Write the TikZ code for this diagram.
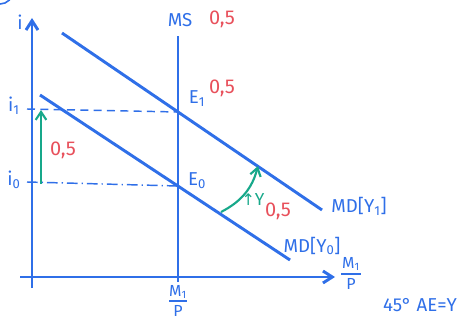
\documentclass[tikz,border=0pt]{standalone}
\usepackage{fontspec}
\setmainfont{Fira Sans}
\newfontfamily\symfont{DejaVu Sans}
\usetikzlibrary{arrows.meta}
\definecolor{pen}{HTML}{2F6FE8}
\definecolor{redpen}{HTML}{E8505B}
\definecolor{grnpen}{HTML}{17A88A}
\begin{document}
\begin{tikzpicture}[x=0.75pt,y=-0.75pt,
  curveline/.style={draw=pen,line width=2.2pt},
  axisline/.style={draw=pen,line width=2.2pt,-{Straight Barb[length=7pt,width=9pt]}},
  guideline/.style={draw=pen,line width=1.1pt,dash pattern=on 6pt off 4pt},
  guidedotline/.style={draw=pen,line width=1.1pt,dash pattern=on 8pt off 3pt on 1pt off 3pt},
  shiftarrow/.style={draw=grnpen,line width=1.6pt,-{Straight Barb[length=6pt,width=8pt]}},
  fracbar/.style={draw=pen,line width=1.3pt},
  bluelab/.style={text=pen,font=\fontsize{14}{14}\selectfont,inner sep=1pt},
  fraclab/.style={text=pen,font=\fontsize{12}{12}\selectfont,inner sep=0pt},
  redlab/.style={text=redpen,font=\fontsize{15}{15}\selectfont,inner sep=1pt},
  greenlab/.style={text=grnpen,font=\fontsize{13}{13}\selectfont,inner sep=1pt}]
\useasboundingbox (0,0) rectangle (466,320);
% partial mark at top-left
\draw[pen,line width=1.2pt] (0,-9) circle (13);
% axes
\coordinate (ybot) at (32,288);
\coordinate (ytop) at (32,18);
\coordinate (xl) at (20,277);
\coordinate (xr) at (335,277);
\draw[axisline] (ybot) -- (ytop);
\draw[axisline] (xl) -- (xr);
% money supply
\coordinate (msT) at (178,36);
\coordinate (msB) at (178,282);
\draw[curveline] (msB) -- (msT);
% money demand curves
\coordinate (md1a) at (62,33);
\coordinate (md1b) at (322,210);
\coordinate (md0a) at (40,95);
\coordinate (md0b) at (290,260);
\draw[curveline] (md1a) -- (md1b);
\draw[curveline] (md0a) -- (md0b);
% equilibria
\coordinate (E1) at (178,112);
\coordinate (E0) at (178,186);
\coordinate (i1) at (27,109);
\coordinate (i0) at (27,182);
\draw[guideline] (i1) -- (E1);
\draw[guidedotline] (i0) -- (E0);
% green shifts
\coordinate (ga) at (41,184);
\coordinate (gb) at (41,110);
\draw[shiftarrow] (ga) -- (gb);
\coordinate (gc) at (221,212);
\coordinate (gd) at (258,166);
\draw[shiftarrow] (gc) to[bend right=24] (gd);
% labels
\node[bluelab] (li) at (20,22) {i};
\node[bluelab] (lms) at (180,20) {MS};
\node[redlab] (r1) at (222,19) {0,5};
\node[bluelab] (le1) at (197,99) {E\textsubscript{1}};
\node[redlab] (r2) at (222,88) {0,5};
\node[bluelab] (le0) at (197,181) {E\textsubscript{0}};
\node[bluelab] (li1) at (14,106) {i\textsubscript{1}};
\node[bluelab] (li0) at (14,180) {i\textsubscript{0}};
\node[redlab] (r3) at (63,150) {0,5};
\node[greenlab] (lup) at (253,200) {{\symfont\fontsize{12}{12}\selectfont ↑}Y};
\node[redlab] (r4) at (278,211) {0,5};
\node[bluelab] (lmd1) at (359,206) {MD[Y\textsubscript{1}]};
\node[bluelab] (lmd0) at (312,246) {MD[Y\textsubscript{0}]};
% fraction at end of horizontal axis
\node[fraclab] (xm) at (351,264) {M\textsubscript{1}};
\node[fraclab] (xp) at (351,284) {P};
\coordinate (xbl) at (341,274);
\coordinate (xbr) at (361,274);
\draw[fracbar] (xbl) -- (xbr);
% fraction below MS
\node[fraclab] (bm) at (178,292) {M\textsubscript{1}};
\node[fraclab] (bp) at (178,311) {P};
\coordinate (bbl) at (169,301);
\coordinate (bbr) at (187,301);
\draw[fracbar] (bbl) -- (bbr);
\node[bluelab] (lae) at (420,305) {45° AE=Y};
\end{tikzpicture}
\end{document}
